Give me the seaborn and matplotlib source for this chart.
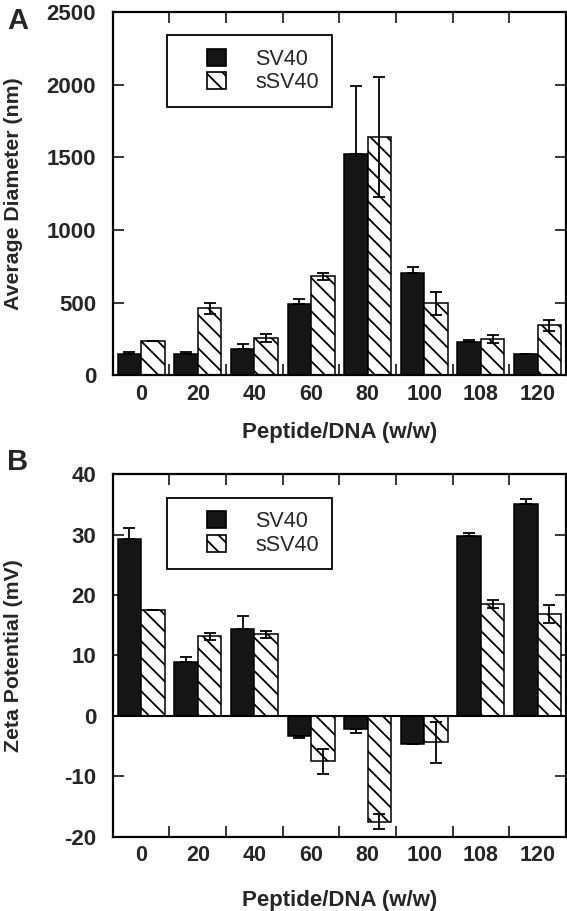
import numpy as np
import pandas as pd
import matplotlib
matplotlib.use("Agg")
import matplotlib.pyplot as plt
import seaborn as sns
from matplotlib.patches import Patch, Rectangle
from matplotlib.legend_handler import HandlerPatch

# ---------------- data ----------------
ratios = ["0", "20", "40", "60", "80", "100", "108", "120"]
series = ["SV40", "sSV40"]

diam_sv40 = [150, 150, 180, 490, 1525, 705, 230, 150]
diam_sv40_err = [10, 10, 35, 35, 465, 40, 10, 0]
diam_ssv40 = [238, 460, 255, 680, 1640, 495, 250, 345]
diam_ssv40_err = [0, 38, 28, 25, 413, 80, 30, 37]

zeta_sv40 = [29.3, 8.9, 14.4, -3.3, -2.2, -4.7, 29.7, 35.0]
zeta_sv40_err = [1.8, 0.8, 2.1, 0.3, 0.6, 0, 0.6, 0.9]
zeta_ssv40 = [17.5, 13.2, 13.5, -7.5, -17.5, -4.4, 18.5, 16.9]
zeta_ssv40_err = [0, 0.6, 0.6, 2.1, 1.2, 3.4, 0.6, 1.5]

diam_ticks = [0, 500, 1000, 1500, 2000, 2500]
zeta_ticks = [-20, -10, 0, 10, 20, 30, 40]

BLACK = "#151515"

sns.set_style("ticks")
plt.rcParams["font.family"] = ["Liberation Sans", "DejaVu Sans"]
plt.rcParams["hatch.linewidth"] = 1.3


def make_df(v1, v2):
    return pd.DataFrame({
        "ratio": ratios * 2,
        "value": list(v1) + list(v2),
        "series": ["SV40"] * len(ratios) + ["sSV40"] * len(ratios),
    })


class SmallBoxHandler(HandlerPatch):
    def create_artists(self, legend, orig_handle, xdescent, ydescent,
                       width, height, fontsize, trans):
        w = 13.7
        h = height
        p = Rectangle((-xdescent + width - w, -ydescent + (height - h) / 2), w, h,
                      facecolor=orig_handle.get_facecolor(),
                      edgecolor="black", lw=1.2,
                      hatch=orig_handle.get_hatch())
        p.set_transform(trans)
        return [p]


def panel(ax, v1, e1, v2, e2, yticks, ylabel, letter, letter_y, xlabelpad):
    df = make_df(v1, v2)
    sns.barplot(data=df, x="ratio", y="value", hue="series", order=ratios,
                hue_order=series, palette={"SV40": BLACK, "sSV40": "white"},
                width=0.83, edgecolor="black", linewidth=1.1, errorbar=None,
                legend=False, saturation=1, ax=ax)
    for bar in ax.containers[1]:
        bar.set_hatch("\\\\")
    # black bars: only the outward half of the error bar is visible
    e1_lo = [e if v < 0 else 0 for v, e in zip(v1, e1)]
    e1_hi = [e if v >= 0 else 0 for v, e in zip(v1, e1)]
    for cont, vals, err in zip(ax.containers, [v1, v2], [[e1_lo, e1_hi], e2]):
        xs = [b.get_x() + b.get_width() / 2 for b in cont]
        ax.errorbar(xs, vals, yerr=err, fmt="none", ecolor="black",
                    elinewidth=1.3, capsize=4.3, capthick=1.3, zorder=4)
    ax.set_xlim(-0.5, len(ratios) - 0.5)
    ax.set_ylim(yticks[0], yticks[-1])
    ax.set_yticks(yticks)
    ax.set_yticklabels([str(t) for t in yticks], fontweight="bold", fontsize=16)
    ax.set_xticks(range(len(ratios)))
    ax.set_xticklabels(ratios, fontweight="bold", fontsize=15.5)
    ax.set_xticks([i + 0.5 for i in range(len(ratios) - 1)], minor=True)
    ax.tick_params(axis="x", which="major", length=0, pad=6)
    ax.tick_params(axis="x", which="minor", direction="in", length=8,
                   width=1.3, top=True, bottom=True)
    ax.tick_params(axis="y", which="major", direction="in", length=8,
                   width=1.3, left=True, right=True, pad=12)
    for s in ax.spines.values():
        s.set_visible(True)
        s.set_linewidth(1.6)
        s.set_color("black")
    ax.set_xlabel("Peptide/DNA (w/w)", fontweight="bold", fontsize=16,
                  labelpad=xlabelpad)
    ax.set_ylabel(ylabel, fontweight="bold", fontsize=15.3)
    ax.yaxis.set_label_coords(-0.198, 0.5)
    handles = [Patch(facecolor=BLACK, edgecolor="black"),
               Patch(facecolor="white", edgecolor="black", hatch="\\\\")]
    leg = ax.legend(handles, series, loc="upper left",
                    bbox_to_anchor=(0.1185, 0.935), borderaxespad=0,
                    fancybox=False, framealpha=1, edgecolor="black",
                    fontsize=15.5, handlelength=2.15, handleheight=0.84,
                    handletextpad=1.35, labelspacing=0.12, borderpad=0.62,
                    handler_map={Patch: SmallBoxHandler()})
    leg.get_frame().set_linewidth(1.3)
    ax.text(-0.234, letter_y, letter, transform=ax.transAxes, fontsize=21,
            fontweight="bold", ha="left", va="top")


fig = plt.figure(figsize=(5.67, 9.11), dpi=100)
axA = fig.add_axes([0.199, 0.588, 0.799, 0.399])
axB = fig.add_axes([0.199, 0.0815, 0.799, 0.398])

panel(axA, diam_sv40, diam_sv40_err, diam_ssv40, diam_ssv40_err,
      diam_ticks, "Average Diameter (nm)", "A", 1.014, 12.5)
panel(axB, zeta_sv40, zeta_sv40_err, zeta_ssv40, zeta_ssv40_err,
      zeta_ticks, "Zeta Potential (mV)", "B", 1.072, 17.5)
axB.axhline(0, color="black", lw=1.5, zorder=5)

fig.savefig("out.png", dpi=100)
